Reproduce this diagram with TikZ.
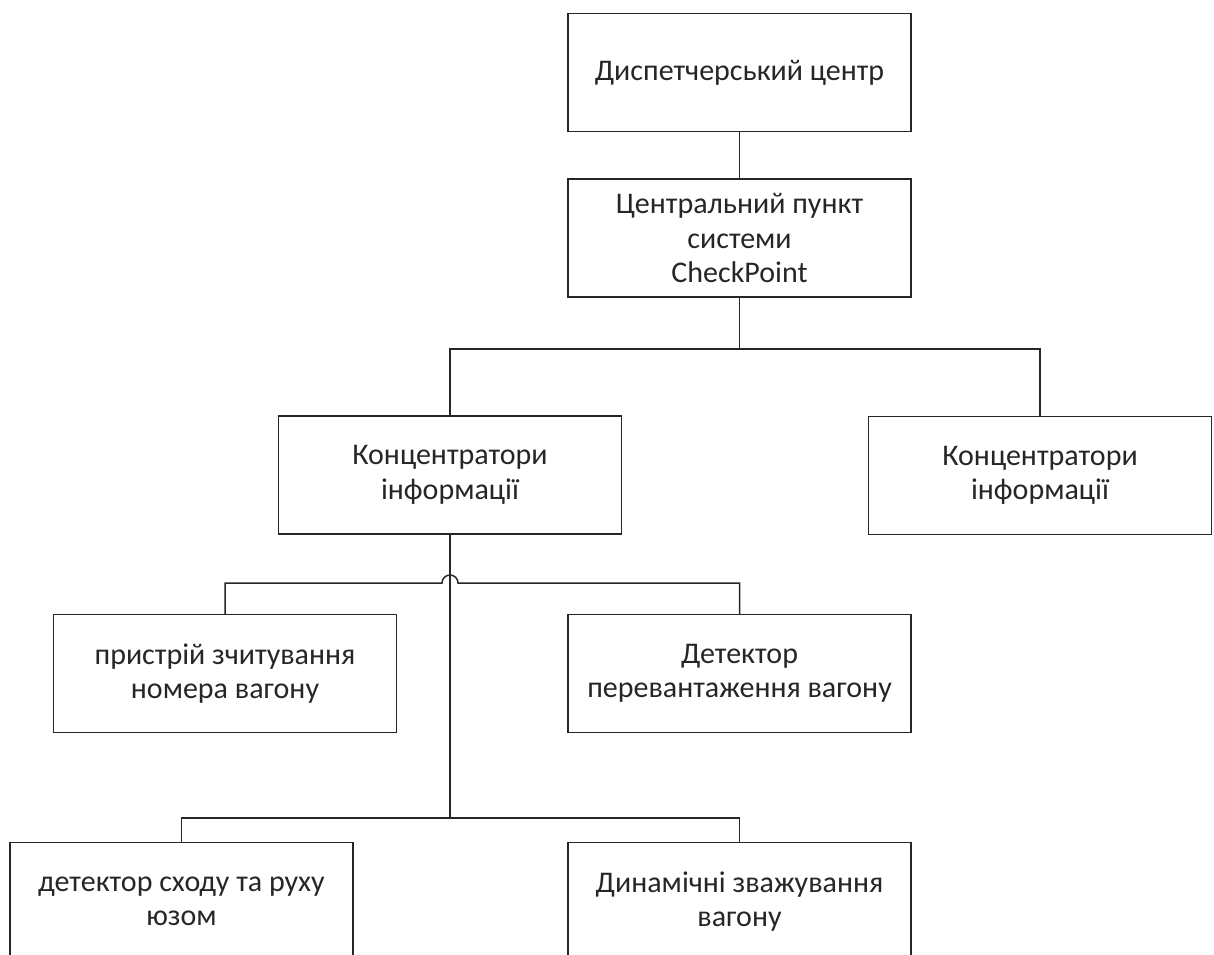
\documentclass[tikz,border=0pt]{standalone}
\usepackage{fontspec}
\setmainfont{Carlito}
\begin{document}
\begin{tikzpicture}[x=1pt,y=-1pt,
  box/.style={draw=black!85, line width=1.5pt, rectangle, minimum width=343pt, minimum height=118pt,
    align=center, text=black!85, font=\fontsize{30}{34.5}\selectfont, inner sep=0pt},
  conn/.style={draw=black!85, line width=1.5pt}]
\useasboundingbox (0,0) rectangle (1214,954);
\clip (0,0) rectangle (1214,954);
\node[box] (b1) at (739.5,72.5) {Диспетчерський центр};
\node[box] (b2) at (739.5,238) {Центральний пункт\\системи\\CheckPoint};
\node[box] (b3) at (450,475) {Концентратори\\інформації};
\node[box] (b4) at (1040,475.5) {Концентратори\\інформації};
\node[box] (b5) at (225,673.5) {пристрій зчитування\\номера вагону};
\node[box] (b6) at (739.5,673.5) {Детектор\\перевантаження вагону};
\node[box] (b7) at (181.5,901.5) {детектор сходу та руху\\юзом};
\node[box] (b8) at (739.5,901.5) {Динамічні зважування\\вагону};
\coordinate (j1) at (739.5,349);
\coordinate (jl) at (442,583);
\coordinate (jr) at (458,583);
\coordinate (j3) at (450,818);
\draw[conn] (b1.south) -- (b2.north);
\draw[conn] (b2.south) -- (j1);
\draw[conn] (b3.north) |- (j1) -| (b4.north);
\draw[conn] (b5.north) |- (jl) arc[start angle=180, end angle=0, radius=8pt] -- (jr) -| (b6.north);
\draw[conn] (b3.south) -- (j3);
\draw[conn] (b7.north) |- (j3) -| (b8.north);
\end{tikzpicture}
\end{document}
